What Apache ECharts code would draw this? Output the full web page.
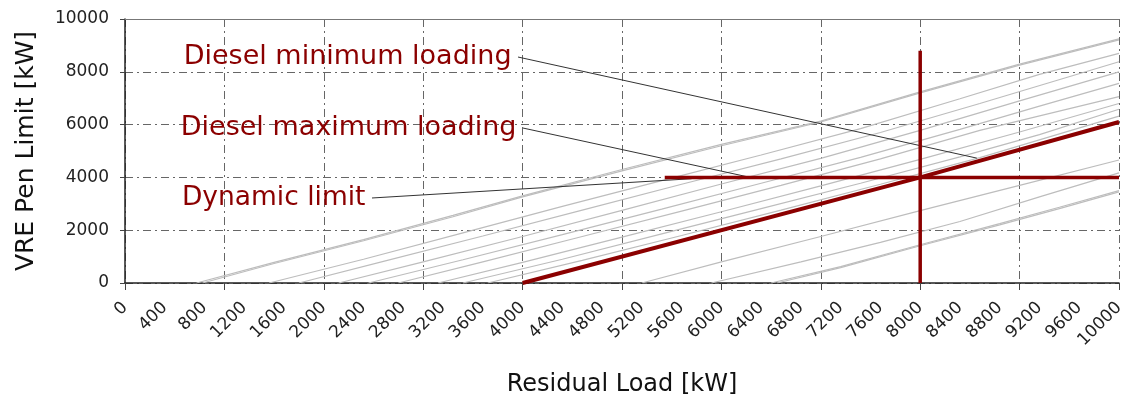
<!DOCTYPE html>
<html>
<head>
<meta charset="utf-8">
<script src="https://cdn.jsdelivr.net/npm/echarts@6/dist/echarts.min.js"></script>
<style>
html,body{margin:0;padding:0;background:#fff;}
#c{width:1124px;height:400px;}
</style>
</head>
<body>
<div id="c"></div>
<script>
// ---- data ----
const xTickLabelStep = 400;     // label spacing on x axis
const xGridStep = 1000;         // grid / tick spacing on x axis
const yGridStep = 2000;
const axisMin = 0;
const axisMax = 10000;

// grey simulation curves (upper family)
const grey1 = [[720,0],[1500,780],[2400,1640],[3300,2560],[4000,3300],[5000,4300],[6000,5250],[7000,6130],[8000,7240],[9000,8290],[10000,9250]];
const grey2 = [[780,0],[1500,740],[2400,1600],[3300,2510],[4000,3260],[5000,4250],[6000,5200],[7000,6100],[8000,7200],[9000,8250],[10000,9210]];
const grey3 = [[1450,0],[2400,900],[3400,1900],[4400,2900],[5400,3880],[6400,4850],[7400,5850],[8400,6980],[9200,7900],[10000,8700]];
const grey4 = [[1750,0],[2600,820],[3600,1780],[4600,2760],[5600,3740],[6600,4700],[7600,5700],[8600,6800],[10000,8380]];
const grey5 = [[2150,0],[3000,800],[4000,1760],[5000,2750],[6000,3750],[7000,4720],[8000,5780],[9000,6900],[10000,8000]];
const grey6 = [[2450,0],[3400,880],[4400,1830],[5400,2800],[6400,3780],[7400,4760],[8400,5820],[9200,6700],[10000,7560]];
const grey7 = [[2750,0],[3600,800],[4600,1760],[5600,2720],[6600,3700],[7600,4700],[8600,5780],[10000,7060]];
const grey8 = [[3150,0],[4000,780],[5000,1740],[6000,2700],[7000,3680],[8000,4680],[9000,5720],[10000,6800]];
const grey9 = [[3400,0],[4400,900],[5400,1860],[6400,2820],[7400,3780],[8400,4780],[9200,5620],[10000,6580]];
const grey10 = [[3650,0],[4600,860],[5600,1800],[6600,2760],[7600,3740],[8600,4750],[10000,6320]];
// grey simulation curves (lower family)
const grey11 = [[5200,0],[6000,800],[7000,1760],[8000,2740],[9000,3700],[10000,4660]];
const grey12 = [[5900,0],[6800,800],[7600,1540],[8400,2330],[9200,3260],[10000,4170]];
const grey13 = [[6500,0],[7200,620],[8000,1450],[8800,2250],[9400,2870],[10000,3500]];
const grey14 = [[6560,0],[7200,580],[8000,1410],[8800,2200],[9400,2820],[10000,3450]];

// red operating lines
const dieselMinLine = [[4000,0],[8000,4000],[10000,6100]];
const dynamicLimitLine = [[5430,4000],[10000,4000]];
const operatingPointLine = [[8000,0],[8000,8800]];

// annotation texts and their leader lines
const annotationTexts = ['Diesel minimum loading','Diesel maximum loading','Dynamic limit'];
const leaderMin = [[3954,8560],[8570,4730]];
const leaderMax = [[4004,5870],[6290,4000]];
const leaderDyn = [[2485,3220],[5700,3950]];

const xName = 'Residual Load [kW]';
const yName = 'VRE Pen Limit [kW]';

// ---- chart ----
const FONT = 'DejaVu Sans';
const RED = '#8b0000';
const greyData = [grey1,grey2,grey3,grey4,grey5,grey6,grey7,grey8,grey9,grey10,grey11,grey12,grey13,grey14];
const dashDot = [8,4,2,4];
const plain = v => String(v);

const series = [];
greyData.forEach(d => series.push({
  type:'line', data:d, showSymbol:false, silent:true, z:2,
  lineStyle:{color:'#bdbdbd', width:1.2}
}));
[leaderMin, leaderMax, leaderDyn].forEach(d => series.push({
  type:'line', data:d, showSymbol:false, silent:true, z:3,
  lineStyle:{color:'#333', width:1}
}));
series.push({type:'line', data:dieselMinLine, showSymbol:false, z:4, lineStyle:{color:RED, width:4}});
series.push({type:'line', data:dynamicLimitLine, showSymbol:false, z:4, lineStyle:{color:RED, width:3.5}});
series.push({type:'line', data:operatingPointLine, showSymbol:false, z:4, lineStyle:{color:RED, width:3.5}});
series.push({
  type:'scatter', z:5, symbolSize:1, silent:true,
  itemStyle:{color:'rgba(0,0,0,0)', opacity:1},
  data:[leaderMin[0], leaderMax[0], leaderDyn[0]].map((p,i)=>({
    value:p,
    label:{show:true, position:'left', distance:6, formatter:annotationTexts[i],
      fontFamily:FONT, fontSize:i===2?26.5:27, color:RED, opacity:1}
  }))
});

const chart = echarts.init(document.getElementById('c'), null, {renderer:'canvas'});
chart.setOption({
  animation:false,
  backgroundColor:'#fff',
  grid:{left:125, right:5, top:19, bottom:117, containLabel:false, outerBoundsMode:'none'},
  xAxis:[
    {type:'value', min:axisMin, max:axisMax, interval:xTickLabelStep, position:'bottom',
     name:xName, nameLocation:'middle', nameGap:90,
     nameTextStyle:{fontFamily:FONT, fontSize:24, color:'#111'},
     axisLine:{show:true, lineStyle:{color:'#222', width:1.5}},
     axisTick:{show:false}, splitLine:{show:false},
     axisLabel:{rotate:45, margin:22, fontFamily:FONT, fontSize:17, color:'#222', formatter:plain}},
    {type:'value', min:axisMin, max:axisMax, interval:xGridStep, position:'bottom',
     axisLine:{show:false}, axisLabel:{show:false},
     axisTick:{show:true, length:7, lineStyle:{color:'#444'}},
     splitLine:{show:true, lineStyle:{color:'#666', type:dashDot, width:1}}},
    {type:'value', min:axisMin, max:axisMax, position:'top',
     axisLine:{show:true, lineStyle:{color:'#777', width:1}},
     axisLabel:{show:false}, axisTick:{show:false}, splitLine:{show:false}}
  ],
  yAxis:{type:'value', min:axisMin, max:axisMax, interval:yGridStep,
    name:yName, nameLocation:'middle', nameGap:86,
    nameTextStyle:{fontFamily:FONT, fontSize:25, color:'#111'},
    axisLine:{show:true, lineStyle:{color:'#222', width:1.5}},
    axisTick:{show:true, length:5, lineStyle:{color:'#444'}},
    axisLabel:{margin:16, fontFamily:FONT, fontSize:17, color:'#222', formatter:plain},
    splitLine:{show:true, lineStyle:{color:'#666', type:dashDot, width:1}}},
  series:series
});
</script>
</body>
</html>
